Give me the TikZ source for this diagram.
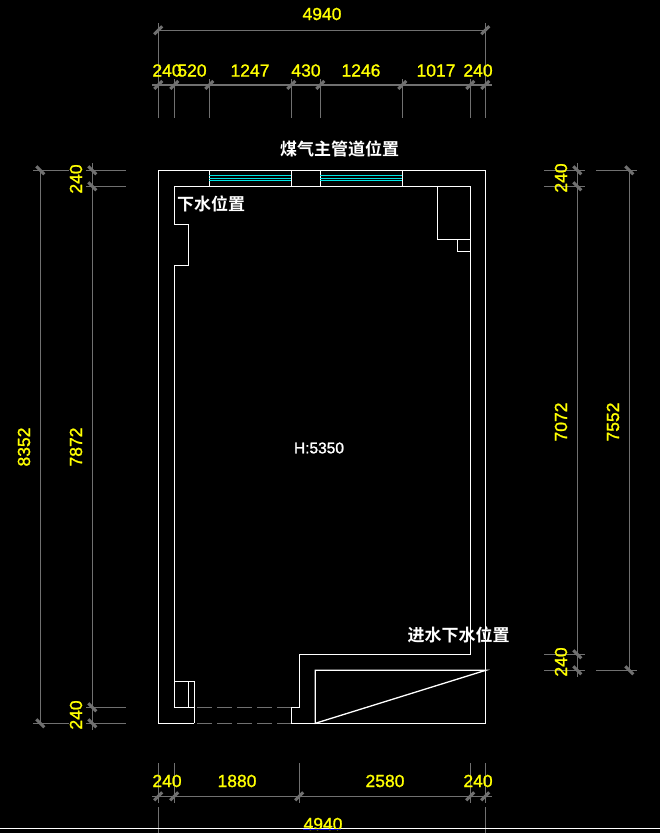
\documentclass[tikz,border=0pt]{standalone}
\usepackage{fontspec}
\setmainfont{Liberation Sans}
\newfontfamily\dimfont{Liberation Sans}[FakeBold=1.2]
\newfontfamily\heightfont{Liberation Sans}[FakeBold=1.5]
\newfontfamily\cjk{Noto Sans CJK SC}[BoldFont=* Bold]
\definecolor{planyellow}{HTML}{FFFF00}
\definecolor{plangray}{HTML}{707070}
\definecolor{plancyan}{HTML}{00E5E5}
\definecolor{planblue}{HTML}{0000D0}
\tikzset{
  wall/.style={white, line width=1.3pt},
  dimline/.style={plangray, line width=1.2pt},
  dimtick/.style={plangray, line width=3pt},
  dimtext/.style={planyellow, font=\dimfont\fontsize{17.5}{18}\selectfont, inner sep=0pt},
  notetext/.style={white, font=\cjk\bfseries\fontsize{17}{18}\selectfont, inner sep=0pt}
}
\begin{document}
\begin{tikzpicture}[x=1pt, y=-1pt]
        % Background
        \fill[black] (0, 0) rectangle (660, 833);
        \useasboundingbox (0, 0) rectangle (660, 833);
        % Door opening
        \draw[dimline, dash pattern=on 15pt off 5pt]
          (197, 707.3) -- (291.3, 707.3);
        \draw[dimline, dash pattern=on 15pt off 5pt]
          (197, 723.3) -- (291.3, 723.3);
        % Outer wall, top and right
        \draw[wall] (194.3, 723.3) -- (158.3, 723.3) -- (158.3, 170.3)
          -- (485.7, 170.3) -- (485.7, 723.3) -- (291.3, 723.3) -- (291.3, 707.3)
          -- (299.3, 707.3) -- (299.3, 654.3) -- (470.3, 654.3) -- (470.3, 186.3)
          -- (174.3, 186.3) -- (174.3, 224.3) -- (188.7, 224.3) -- (188.7, 265.3)
          -- (174.3, 265.3) -- (174.3, 707.3) -- (194.3, 707.3);
        % Corner column, bottom left
        \draw[wall] (194.3, 723.3) -- (194.3, 681.3) -- (174.3, 681.3);
        \draw[wall] (188.7, 681.3) -- (188.7, 707.3);
        % Duct, top right
        \draw[wall] (437.3, 186.3) -- (437.3, 239.7) -- (470.3, 239.7);
        \draw[wall] (457.3, 239.7) -- (457.3, 251.3) -- (470.3, 251.3);
        % Void, bottom right
        \draw[wall] (315.3, 723.3) -- (315.3, 670.3) -- (485.7, 670.3) -- cycle;
        % Windows
        \foreach \xa/\xb in {209.3/291.3, 320.3/402.3} {
          \draw[wall] (\xa, 170.3) -- (\xa, 186.3);
          \draw[wall] (\xb, 170.3) -- (\xb, 186.3);
          \foreach \yy in {175.3, 178, 180.3}
            \draw[plancyan, line width=1pt] (\xa, \yy) -- (\xb, \yy);
        }
        % Top dimensions
        \draw[dimline] (158.3, 23) -- (158.3, 118);
        \draw[dimline] (485.3, 23) -- (485.3, 118);
        \draw[dimline] (158.3, 30.3) -- (485.3, 30.3);
        \draw[dimline] (152, 85) -- (492, 85);
        \foreach \xx in {174.3, 209.3, 291.3, 320.3, 402.3, 470.3}
          \draw[dimline] (\xx, 79) -- (\xx, 118);
        \foreach \xx in {158.3, 485.3}
          \draw[dimtick] (\xx-4, 34.3) -- (\xx+4, 26.3);
        \foreach \xx in {158.3, 174.3, 209.3, 291.3, 320.3, 402.3, 470.3, 485.3}
          \draw[dimtick] (\xx-4, 89) -- (\xx+4, 81);
        \node[dimtext] (topall) at (322, 14) {4940};
        \foreach \xx/\txt in {167/240, 192/520, 250/1247, 306/430, 361/1246, 436/1017, 478/240}
          \node[dimtext] at (\xx, 70.5) {\txt};
        % Bottom dimensions
        \draw[dimline] (152, 796.3) -- (492, 796.3);
        \foreach \xx in {158.3, 174.3, 299.3, 470.3, 485.3}
          \draw[dimline] (\xx, 763) -- (\xx, 803);
        \foreach \xx in {158.3, 174.3, 299.3, 470.3, 485.3}
          \draw[dimtick] (\xx-4, 800.3) -- (\xx+4, 792.3);
        \foreach \yy in {158.3, 485.3}
          \draw[dimline] (\yy, 807) -- (\yy, 833);
        \draw[white, line width=1pt] (0, 828.3) -- (660, 828.3);
        \node[dimtext] (botall) at (323, 824) {4940};
        \draw[planblue, line width=0.8pt] (303, 829.3) -- (341, 829.3);
        \foreach \xx/\txt in {167/240, 237/1880, 385/2580, 478/240}
          \node[dimtext] at (\xx, 781) {\txt};
        % Left dimensions
        \draw[dimline] (40.3, 170.3) -- (40.3, 723.3);
        \draw[dimline] (92.3, 163) -- (92.3, 730);
        \foreach \yy in {170.3, 723.3}
          \draw[dimline] (33, \yy) -- (69, \yy);
        \foreach \yy in {170.3, 186.3, 707.3, 723.3}
          \draw[dimline] (86, \yy) -- (126, \yy);
        \foreach \xx/\yy in {40.3/170.3, 40.3/723.3, 92.3/170.3, 92.3/186.3, 92.3/707.3, 92.3/723.3}
          \draw[dimtick] (\xx-4, \yy-4) -- (\xx+4, \yy+4);
        \node[dimtext, rotate=90] at (24, 447) {8352};
        \node[dimtext, rotate=90] at (76, 447) {7872};
        \node[dimtext, rotate=90] at (76, 179) {240};
        \node[dimtext, rotate=90] at (76, 715) {240};
        % Right dimensions
        \draw[dimline] (577.3, 163) -- (577.3, 677);
        \draw[dimline] (629.3, 170.3) -- (629.3, 670.3);
        \foreach \yy in {170.3, 186.3, 654.3, 670.3}
          \draw[dimline] (544, \yy) -- (585, \yy);
        \foreach \yy in {170.3, 670.3}
          \draw[dimline] (596, \yy) -- (637, \yy);
        \foreach \xx/\yy in {577.3/170.3, 577.3/186.3, 577.3/654.3, 577.3/670.3, 629.3/170.3, 629.3/670.3}
          \draw[dimtick] (\xx-4, \yy-4) -- (\xx+4, \yy+4);
        \node[dimtext, rotate=90] at (561, 178) {240};
        \node[dimtext, rotate=90] at (561, 662) {240};
        \node[dimtext, rotate=90] at (561, 422) {7072};
        \node[dimtext, rotate=90] at (613, 422) {7552};
        % Notes
        \node[notetext] (gasnote) at (339.5, 149) {煤气主管道位置};
        \node[notetext] (drainnote) at (211, 203.5) {下水位置};
        \node[notetext] (inletnote) at (458.5, 635) {进水下水位置};
        \node[white, font=\heightfont\fontsize{15.5}{16}\selectfont, inner sep=0pt] (heightnote) at (319, 448) {H:5350};
      \end{tikzpicture}
\end{document}
